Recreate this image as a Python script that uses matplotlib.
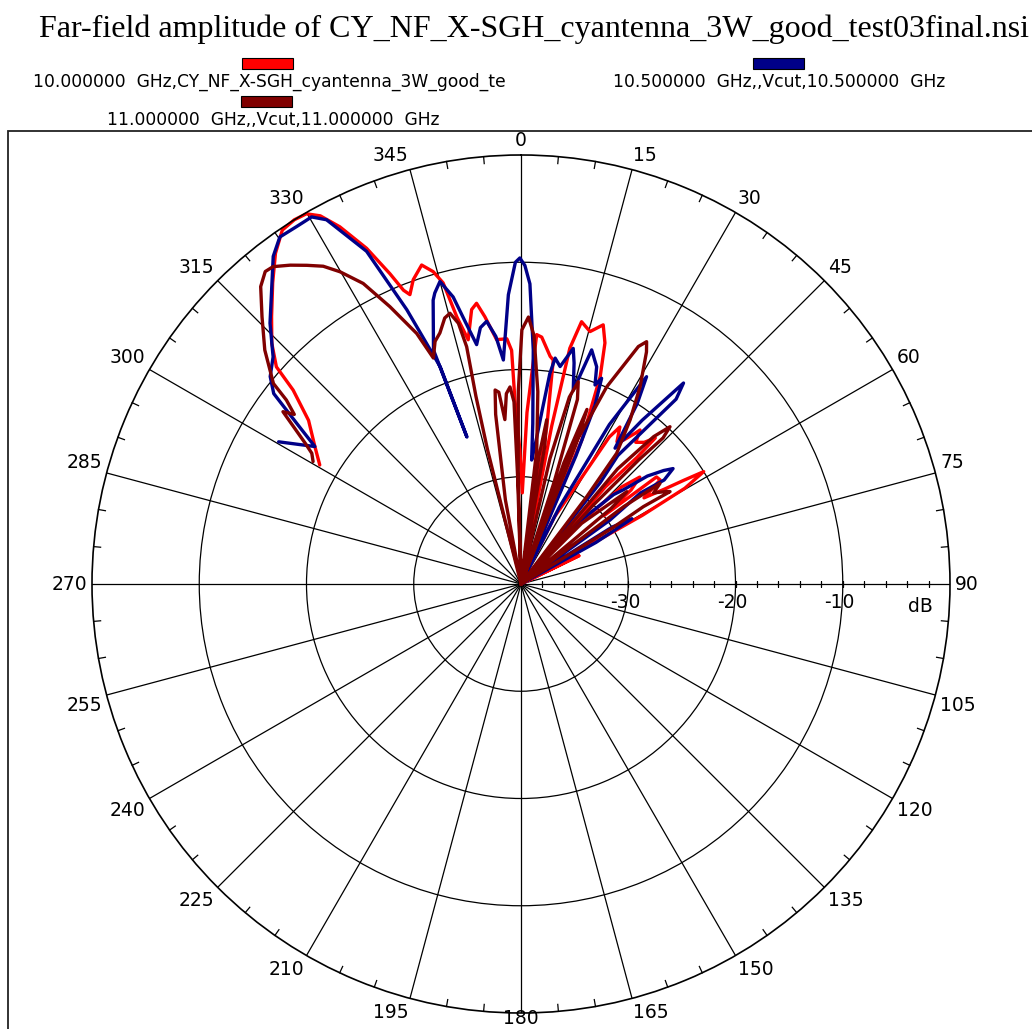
import numpy as np
import matplotlib
matplotlib.use("Agg")
import matplotlib.pyplot as plt
from matplotlib.patches import Rectangle

# ---------------- data (angle in degrees, clockwise from top; amplitude in dB) -------------
title = "Far-field amplitude of CY_NF_X-SGH_cyantenna_3W_good_test03final.nsi"
series_labels = ["10.000000  GHz,CY_NF_X-SGH_cyantenna_3W_good_te",
                 "10.500000  GHz,,Vcut,10.500000  GHz",
                 "11.000000  GHz,,Vcut,11.000000  GHz"]
series_colors = ["#ff0000", "#000088", "#800000"]

red_ang = [-59.4, -56.3, -52.4, -49.6, -48.4, -46.0, -43.0, -39.5, -36.6, -34.0, -31.9, -30.1,
           -28.6, -26.9, -24.7, -22.9, -21.8, -21.0, -19.5, -17.3, -15.7, -14.5, -13.5, -12.2,
           -10.2, -9.0, -7.7, -5.7, -3.3, -2.3, -1.9, -0.5, 0.8,
           2.0, 3.6, 4.8, 7.3, 8.2, 9.3, 10.3, 11.0, 11.7, 13.0, 15.3, 17.6, 19.2, 20.9, 22.9, 24.0,
           26.5, 29.0, 31.0, 32.2, 34.0, 35.5, 37.1, 37.7, 39.0, 41.0, 42.6, 42.5, 41.0, 42.0,
           44.0, 46.0, 48.0, 49.5, 50.5, 51.7, 53.2, 55.0, 56.5, 57.5, 58.4, 59.7, 60.5, 61.5,
           64.0, 66.0, 90.0]
red_db = [-18.2, -16.9, -15.0, -12.1, -9.5, -7.7, -5.9, -3.6, -1.6, -0.2, 0.0, -0.1,
          -0.9, -2.65, -5.55, -8.6, -10.5, -11.1, -9.9, -8.85, -9.75, -11.0, -14.4, -16.7,
          -14.0, -13.5, -14.85, -17.1, -17.1, -18.2, -22.8, -27.5, -31.5,
          -24.0, -16.7, -16.9, -18.6, -18.9, -25.1, -40.0, -25.0, -17.55, -14.9, -15.6, -14.65, -16.2, -19.3, -25.4, -40.0,
          -33.0, -30.0, -24.0, -22.7, -24.0, -23.5, -22.4, -21.85, -23.0, -22.5, -21.5, -24.0, -28.0, -40.0,
          -32.0, -27.0, -25.1, -26.5, -30.0, -23.9, -23.8, -26.0, -24.0, -22.0, -20.0, -22.3, -27.0, -40.0,
          -34.0, -40.0, -40.0]

blue_ang = [-59.6, -56.3, -54.4, -52.4, -50.4, -47.5, -43.9, -40.3, -37.1, -34.8, -32.1, -29.7,
            -28.1, -24.9, -22.6, -20.4, -20.2, -20.5, -17.2, -16.5, -15.0, -13.3, -12.0, -10.5,
            -9.0, -7.45, -5.8, -4.5, -2.5, -1.0, -0.2, 0.7, 1.7, 3.0, 4.2, 4.9,
            5.8, 7.0, 7.8, 8.6, 10.2, 12.5, 13.5, 15.1, 16.8, 19.2, 20.4, 21.4, 22.5, 23.2, 24.5,
            26.5, 29.0, 31.2, 32.8, 34.7, 36.5, 38.96, 40.0, 38.5, 37.0, 38.0, 40.5,
            43.0, 46.0, 47.4, 49.5, 51.5, 52.8, 54.0, 52.7, 54.3, 56.0, 58.0, 59.5, 61.0, 62.5, 90.0]
blue_db = [-13.8, -16.9, -14.3, -10.9, -9.65, -8.65, -6.25, -4.05, -1.7, -0.6, -0.65, -0.6,
           -1.5, -5.8, -12.3, -18.4, -25.4, -16.7, -12.3, -11.7, -10.8, -12.5, -15.0, -17.3,
           -15.8, -15.3, -16.8, -19.05, -13.0, -10.0, -9.6, -10.3, -12.0, -18.15, -25.0, -28.4,
           -27.0, -23.5, -20.2, -18.7, -19.4, -17.5, -18.8, -21.3, -17.2, -18.55, -20.2, -19.4, -22.0, -27.0, -40.0,
           -32.0, -23.0, -17.4, -20.0, -24.6, -21.0, -15.9, -17.5, -22.0, -25.0, -28.0, -40.0,
           -32.0, -28.0, -27.0, -24.5, -23.0, -22.2, -23.5, -26.0, -29.8, -40.0, -30.0, -28.0, -32.0, -40.0, -40.0]

dred_ang = [-59.5, -58.0, -56.9, -54.1, -53.2, -51.9, -51.0, -47.6, -44.1, -41.2, -39.3, -38.0,
            -35.9, -33.9, -31.9, -30.1, -27.7, -25.3, -22.6, -21.2, -19.5, -17.9, -16.0, -14.7,
            -13.5, -12.9, -13.5, -14.0, -13.5,
            -10.5, -8.5, -7.6, -6.6, -5.6, -4.4, -3.2, -2.2, -1.8, -1.2,
            -1.5, -0.8, 0.2, 1.6, 3.0, 5.0, 6.7, 7.0,
            8.0, 8.9, 9.8, 10.5, 13.0, 14.5, 15.8, 17.0, 18.0, 18.5, 19.5, 20.7, 21.5, 22.0,
            20.9, 23.5, 26.3, 27.4, 28.4, 31.1, 33.6, 36.2, 37.0, 37.5,
            40.0, 42.0, 43.45, 44.2, 43.5, 42.5, 43.0,
            45.0, 48.9, 50.0, 51.0, 53.0, 54.1, 55.5, 56.5, 57.6, 58.2, 57.7, 58.5, 60.0, 90.0]
dred_db = [-17.5, -17.0, -16.0, -12.6, -13.6, -12.2, -10.3, -7.65, -5.3, -3.15, -2.35, -2.45,
           -3.3, -4.2, -5.1, -6.35, -8.35, -11.4, -14.7, -17.4, -16.0, -15.4, -14.2, -13.9,
           -15.0, -17.3, -22.0, -27.1, -40.0,
           -32.0, -24.0, -21.75, -22.0, -24.6, -22.2, -21.6, -23.0, -30.0, -40.0,
           -30.0, -22.0, -16.3, -15.1, -16.8, -22.0, -27.4, -40.0,
           -28.0, -24.5, -27.0, -40.0, -28.0, -22.0, -20.4, -22.0, -30.0, -40.0, -28.0, -22.6, -26.0, -40.0,
           -26.3, -19.95, -15.3, -14.55, -15.4, -18.5, -21.6, -24.9, -30.0, -40.0,
           -26.0, -21.5, -19.8, -21.0, -24.0, -30.0, -40.0,
           -32.0, -26.9, -29.0, -40.0, -28.0, -24.0, -25.0, -24.5, -23.9, -23.65, -26.5, -30.0, -40.0, -40.0]

series_ang = [red_ang, blue_ang, dred_ang]
series_db = [red_db, blue_db, dred_db]

theta_ticks = list(range(0, 360, 15))
r_rings = [-30, -20, -10]
r_min, r_max = -40, 0

# ---------------- figure ----------------
W, H = 1032, 1029
fig = plt.figure(figsize=(W / 100, H / 100), dpi=100)
fig.patch.set_facecolor("white")

cx, cy, R = 521, 584, 429
ax = fig.add_axes([(cx - R) / W, (H - cy - R) / H, 2 * R / W, 2 * R / H], projection="polar")
ax.set_theta_zero_location("N")
ax.set_theta_direction(-1)
ax.set_ylim(r_min, r_max)
ax.set_xticks(np.deg2rad(theta_ticks))
ax.set_xticklabels([])
ax.set_yticks(r_rings)
ax.set_yticklabels([])
ax.grid(True, color="black", lw=0.9)
ax.spines["polar"].set_linewidth(1.2)
ax.spines["polar"].set_color("black")
ax.tick_params(length=0)

# outer ring minor ticks (every 5 degrees)
tick_in = r_max - 7 / R * (r_max - r_min)
for d in range(0, 360, 5):
    if d % 15:
        ax.plot([np.deg2rad(d)] * 2, [tick_in, r_max], color="black", lw=0.9, clip_on=False)
# radial minor ticks along 90 deg axis
rt = np.arange(-38, 0, 2)
ax.plot([np.pi / 2] * len(rt), rt, ls="none", marker="|", ms=5, mew=0.9, color="black")

# data curves
for ang, db, col in zip(series_ang, series_db, series_colors):
    ax.plot(np.deg2rad(ang), np.clip(db, r_min, r_max), color=col, lw=2.4,
            solid_joinstyle="round", solid_capstyle="round", clip_on=False)

# angle labels
lab_font = dict(family="DejaVu Sans", size=13.5)
r_lab = r_max + 5 / R * (r_max - r_min)
for d in theta_ticks:
    if d == 180:
        continue
    s = np.sin(np.deg2rad(d)); c = np.cos(np.deg2rad(d))
    ha = "center" if abs(s) < 0.05 else ("left" if s > 0 else "right")
    va = "center" if abs(c) < 0.05 else ("bottom" if c > 0 else "top")
    ax.text(np.deg2rad(d), r_lab, str(d), ha=ha, va=va, clip_on=False, **lab_font)
# bottom label kept inside the picture
fig.text(cx / W, 1.5 / H, "180", ha="center", va="bottom", **lab_font)

# radial labels
for r in r_rings:
    ax.annotate(str(r), xy=(np.pi / 2, r), xytext=(-3, -9), textcoords="offset pixels",
                ha="center", va="top", **lab_font)
ax.annotate("dB", xy=(np.pi / 2, -2.8), xytext=(0, -23), textcoords="offset pixels",
            ha="center", va="center", **lab_font)

# frame
fig.add_artist(Rectangle((8 / W, -0.1), 1.2, (H - 131) / H + 0.1, transform=fig.transFigure,
                         fill=False, ec="#222222", lw=1.3))

# title
fig.text(534 / W, (H - 37) / H, title, ha="center", va="baseline",
         family="Liberation Serif", size=23)

# legend
leg = [(267, 58, 269, 87), (778, 58, 779, 87), (266, 96, 273, 125)]
for (rx, ry, tx, ty), lab, col in zip(leg, series_labels, series_colors):
    fig.add_artist(Rectangle(((rx - 25) / W, (H - ry - 11) / H), 51 / W, 11 / H,
                             transform=fig.transFigure, fc=col, ec="black", lw=0.8))
    fig.text(tx / W, (H - ty) / H, lab, ha="center", va="baseline",
             family="DejaVu Sans", size=12.3)

fig.savefig("out.png", dpi=100)
